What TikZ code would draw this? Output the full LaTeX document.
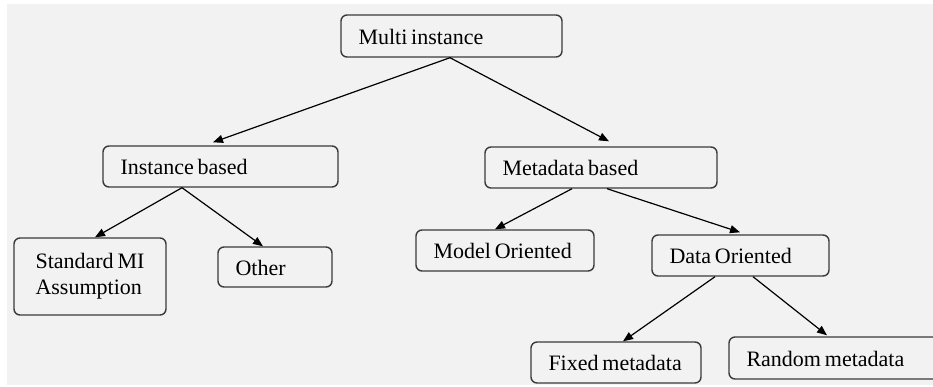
\documentclass[tikz,border=0pt]{standalone}
\usepackage{fontspec}
\setmainfont[WordSpace=0.7]{Liberation Serif}
\usetikzlibrary{arrows.meta,calc}
\definecolor{bg}{HTML}{F2F2F2}
\definecolor{boxc}{HTML}{3A3A3A}
\newcommand{\lbox}[2]{\makebox[#1][l]{#2}}
\begin{document}
\begin{tikzpicture}[x=1pt,y=-1pt,
  box/.style={draw=boxc, line width=1.4pt, rounded corners=6pt, anchor=center,
    font=\fontsize{22}{26}\selectfont, align=left, inner xsep=17.5pt, inner ysep=0pt},
  oneline/.style={text height=16.5pt, text depth=0pt},
  conn/.style={draw=black, line width=1.2pt, -{Triangle[length=10pt,width=8pt]}}]
\useasboundingbox (0,0) rectangle (933,386);
\clip (0,0) rectangle (933,386);
\fill[white] (0,0) rectangle (933,386);
\fill[bg] (7,4) rectangle (933,385);
% nodes
\node[box, oneline, minimum width=221pt, minimum height=42pt] (mi) at (451.5,36) {\lbox{186pt}{Multi instance}};
\node[box, oneline, minimum width=235pt, minimum height=41pt] (ib) at (220.5,166.5) {\lbox{200pt}{Instance based}};
\node[box, oneline, minimum width=232pt, minimum height=41pt] (mb) at (601,167.5) {\lbox{197pt}{Metadata based}};
\node[box, minimum width=152pt, minimum height=77pt, inner xsep=4pt] (sm) at (90,276.5) {Standard MI\\Assumption};
\node[box, oneline, minimum width=114pt, minimum height=40pt] (ot) at (275,267) {\lbox{79pt}{Other}};
\node[box, oneline, minimum width=178pt, minimum height=41pt] (mo) at (505,250.5) {\lbox{143pt}{Model Oriented}};
\node[box, oneline, minimum width=177pt, minimum height=41pt] (do) at (740.5,255.5) {\lbox{142pt}{Data Oriented}};
\node[box, oneline, minimum width=170pt, minimum height=41pt] (fm) at (616,362.5) {\lbox{135pt}{Fixed metadata}};
\node[box, oneline, minimum width=211pt, minimum height=42pt] (rm) at (834.5,358) {\lbox{176pt}{Random metadata}};
% connectors
\draw[conn] ($(mi.south)+(-1.5,0)$) -- ($(ib.north)+(-7.5,-3)$);
\draw[conn] ($(mi.south)+(-1.5,0)$) -- ($(mb.north)+(8,-5)$);
\draw[conn] ($(ib.south)+(-38.5,0)$) -- ($(sm.north)+(5,0)$);
\draw[conn] ($(ib.south)+(-38.5,0)$) -- ($(ot.north)+(-12,0)$);
\draw[conn] ($(mb.south)+(-29,0)$) -- ($(mo.north)+(-10,0)$);
\draw[conn] ($(mb.south)+(6,0)$) -- ($(do.north)+(-0.5,-2)$);
\draw[conn] ($(do.south)+(-25.5,0)$) -- ($(fm.north)+(7,0)$);
\draw[conn] ($(do.south)+(12.5,0)$) -- ($(rm.north)+(-7.5,-1)$);
\end{tikzpicture}
\end{document}
